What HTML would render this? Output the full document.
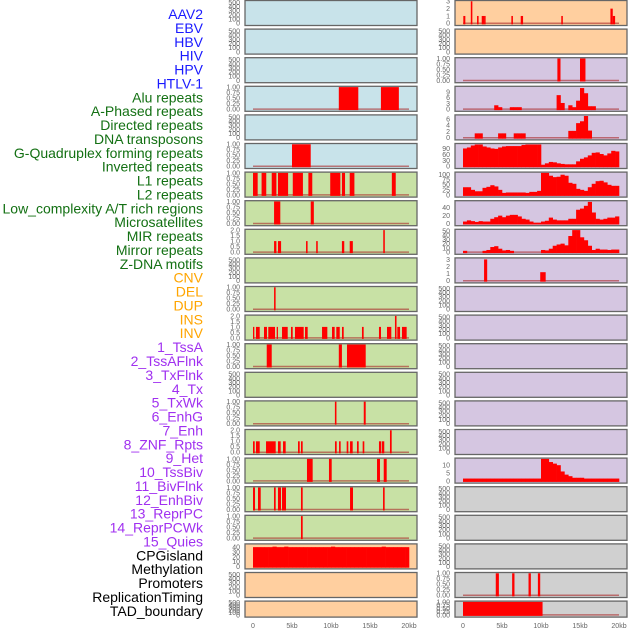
<!DOCTYPE html>
<html><head><meta charset="utf-8"><style>
html,body{margin:0;padding:0;background:#fff;width:630px;height:630px;overflow:hidden}
svg{display:block;font-family:"Liberation Sans",sans-serif}
</style></head><body>
<svg id="chart" width="630" height="630" viewBox="0 0 630 630" xmlns="http://www.w3.org/2000/svg"></svg>
<script>
// ---------- data ----------
const rowLabels = ["AAV2","EBV","HBV","HIV","HPV","HTLV-1","Alu repeats","A-Phased repeats","Directed repeats","DNA transposons","G-Quadruplex forming repeats","Inverted repeats","L1 repeats","L2 repeats","Low_complexity A/T rich regions","Microsatellites","MIR repeats","Mirror repeats","Z-DNA motifs","CNV","DEL","DUP","INS","INV","1_TssA","2_TssAFlnk","3_TxFlnk","4_Tx","5_TxWk","6_EnhG","7_Enh","8_ZNF_Rpts","9_Het","10_TssBiv","11_BivFlnk","12_EnhBiv","13_ReprPC","14_ReprPCWk","15_Quies","CPGisland","Methylation","Promoters","ReplicationTiming","TAD_boundary"];
const labelColors = ["#1a1aff","#1a1aff","#1a1aff","#1a1aff","#1a1aff","#1a1aff","#137013","#137013","#137013","#137013","#137013","#137013","#137013","#137013","#137013","#137013","#137013","#137013","#137013","#ffa500","#ffa500","#ffa500","#ffa500","#ffa500","#a030f0","#a030f0","#a030f0","#a030f0","#a030f0","#a030f0","#a030f0","#a030f0","#a030f0","#a030f0","#a030f0","#a030f0","#a030f0","#a030f0","#a030f0","#000","#000","#000","#000","#000"];
const xTickValues = [0,5,10,15,20];
const xTickLabels = ["0","5kb","10kb","15kb","20kb"];

// left column segments [startKb, endKb, value]
const L3 = [[11.0,13.5,1],[16.4,18.7,1]];
const L5 = [[5.0,7.4,1]];
const L6 = [[0,0.6,1],[1.1,1.7,1],[2.4,3.0,1],[3.2,4.5,1],[5.1,6.4,1],[7.1,7.6,1],[9.9,11.2,1],[11.4,11.8,1],[12.4,13.0,1],[17.8,18.3,1]];
const L7 = [[2.7,3.5,1],[7.4,7.8,1]];
const L8 = [[2.7,3.0,1],[3.2,3.6,1],[6.8,7.0,1],[8.1,8.3,1],[11.4,11.7,1],[12.4,12.8,1],[16.7,16.9,2]];
const L10 = [[2.7,2.9,1]];
const L11 = [[0,0.17,1],[0.38,0.86,1],[1.41,1.79,1],[1.96,2.82,1],[3.04,3.2,1],[3.72,4.45,1],[4.87,5.09,1],[5.38,6.5,1],[6.67,7.01,1],[8.85,9.53,1],[10.13,10.47,1],[10.68,11.12,1],[11.41,11.63,1],[13.97,14.19,1],[16.15,16.41,1],[17.18,17.73,1],[18.2,18.4,2],[18.5,18.85,1],[19.1,19.7,1]];
const L12 = [[1.76,2.4,1],[11.0,11.4,1],[12.05,14.45,1]];
const L14 = [[10.5,10.7,1],[14.2,14.45,1]];
const L15 = [[0,0.22,1],[0.38,0.86,1],[1.67,2.91,1],[3.2,3.55,1],[3.85,4.19,1],[5.77,5.99,1],[6.15,6.37,1],[10.51,10.73,1],[11.03,11.24,1],[12.01,12.22,1],[12.44,12.78,1],[13.33,13.55,1],[14.06,14.27,1],[16.15,16.45,1],[16.54,16.83,1],[17.56,17.78,2]];
const L16 = [[6.92,7.65,1],[9.74,10.09,1],[15.9,16.28,1],[16.76,17.14,1]];
const L17 = [[0,0.26,1],[0.64,0.99,1],[2.69,2.91,1],[3.2,3.59,1],[3.72,4.23,1],[6.15,6.37,1],[12.44,12.82,1],[16.67,16.88,1]];
const L18 = [[6.15,6.37,1]];
const L19bins = [40,40,40,40,40,41,40,40,41,40,40,40,40,40,40,40,40,40,40,40,41,40,40,40,40,40,40,40,40,40,40,40,40,41,40,40,40,40,40,40];

// right column
const R0 = [[0.04,0.3,1],[1.0,1.2,3],[1.8,2.0,1],[2.4,2.7,1],[2.7,2.9,1],[6.2,6.4,1],[7.4,7.7,1],[12.6,12.8,1],[18.9,19.2,2],[19.2,19.5,1]];
const R2 = [[12.1,12.5,1],[15.0,15.7,1]];
const R3bins = [0,0,0,0,0,0,0,0,2,1,0,0,1,1,1,0,0,0,0,0,0,0,0,0,7.3,3.2,0,2,1,4.4,11,8.3,1.5,1.5,0,0,0,0,0,0];
const R4bins = [0,0,0,1.4,1.4,0,0,0,0,1.4,1.4,0,0,1.4,1.4,1.4,0,0,0,0,0,0,0,0,0,0,0,2.2,2.2,4.7,5.3,7,2.3,0,0,0,0,0,0,0];
const R5bins = [90,95,105,110,110,100,95,90,88,95,100,102,102,102,102,108,110,110,110,110,8,15,22,20,15,12,10,10,10,25,38,45,55,68,70,62,55,65,78,75];
const R6bins = [38,38,25,18,18,35,40,48,42,25,10,12,12,12,12,12,10,15,15,20,109,109,95,88,90,100,95,60,55,30,25,20,38,55,68,70,62,50,45,45];
const R7bins = [5,8,6,4,6,5,5,12,16,20,16,20,22,22,18,12,10,5,2,2,5,7,15,10,8,8,8,12,12,35,38,45,55,28,12,10,12,15,15,18];
const R8bins = [3,0,0,0,0,3,5,12,14,8,4,5,3,0,0,0,0,0,0,0,5,4,8,15,18,20,16,38,52,52,35,28,15,5,8,6,6,5,6,6];
const R9 = [[2.7,3.1,3],[9.9,10.6,1.2]];
const R16bins = [1.5,1.5,1.5,1.5,1.5,1.5,1.5,1.5,1.5,1.5,1.5,1.5,1.5,1.5,1.5,1.5,1.5,1.5,1.5,1.5,14,14,12,11,10,6,4,3,2,2,2,1.5,1.5,1.5,1.5,1.5,1.5,1.5,1.5,1.5];
const R20 = [[4.2,4.6,1],[6.3,6.6,1],[8.4,8.7,1],[9.6,9.9,1]];
const R21 = [[0,10.2,1]];

// ---------- drawing ----------
const NS = "http://www.w3.org/2000/svg";
const svg = document.getElementById("chart");
function mk(tag, attrs, parent){const e=document.createElementNS(NS,tag);for(const k in attrs)e.setAttribute(k,attrs[k]);(parent||svg).appendChild(e);return e;}

const COLS = {L:{x:245,w:172,x0:253,lab:240},R:{x:455,w:172,x0:463,lab:450}};
const kbScale = 7.8;
const BG = {blue:"#c8e3ea",green:"#c8e1a5",peach:"#ffcf9f",lav:"#d5c6e1",grey:"#d0d0d0"};
const T500 = {max:530,ticks:[0,100,200,300,400,500],fmt:v=>String(v)};
const T1 = {max:1,ticks:[0,0.25,0.5,0.75,1],fmt:v=>v.toFixed(2)};
const T2 = {max:2,ticks:[0,0.5,1,1.5,2],fmt:v=>v.toFixed(1)};
function T(max,ticks){return {max:max,ticks:ticks,fmt:v=>String(v)};}

const panels = [
 ["L",0,"blue",T500,null,null],["L",1,"blue",T500,null,null],["L",2,"blue",T500,null,null],
 ["L",3,"blue",T1,L3,null],["L",4,"blue",T500,null,null],["L",5,"blue",T1,L5,null],
 ["L",6,"green",T1,L6,null],["L",7,"green",T1,L7,null],["L",8,"green",T2,L8,null],
 ["L",9,"green",T500,null,null],["L",10,"green",T1,L10,null],["L",11,"green",T2,L11,null],
 ["L",12,"green",T1,L12,null],["L",13,"green",T500,null,null],["L",14,"green",T1,L14,null],
 ["L",15,"green",T2,L15,null],["L",16,"green",T1,L16,null],["L",17,"green",T1,L17,null],
 ["L",18,"green",T1,L18,null],["L",19,"peach",T(45,[0,10,20,30,40]),null,L19bins],
 ["L",20,"peach",T500,null,null],["L",21,"peach",T500,null,null],
 ["R",0,"peach",T(3,[0,1,2,3]),R0,null],["R",1,"peach",T500,null,null],
 ["R",2,"lav",T1,R2,null],["R",3,"lav",T(11.5,[0,3,6,9]),null,R3bins],
 ["R",4,"lav",T(7.1,[0,2,4,6]),null,R4bins],["R",5,"lav",T(111,[0,30,60,90]),null,R5bins],
 ["R",6,"lav",T(109,[0,25,50,75,100]),null,R6bins],["R",7,"lav",T(56,[0,20,40]),null,R7bins],
 ["R",8,"lav",T(52,[0,10,20,30,40,50]),null,R8bins],["R",9,"lav",T(3.1,[0,1,2,3]),R9,null],
 ["R",10,"lav",T500,null,null],["R",11,"lav",T500,null,null],["R",12,"lav",T500,null,null],
 ["R",13,"lav",T500,null,null],["R",14,"lav",T500,null,null],["R",15,"lav",T500,null,null],
 ["R",16,"lav",T(14,[0,5,10]),null,R16bins],["R",17,"grey",T500,null,null],
 ["R",18,"grey",T500,null,null],["R",19,"grey",T500,null,null],
 ["R",20,"grey",T1,R20,null],["R",21,"grey",T1,R21,null]
];

panels.forEach(p=>{
  const [c,row,bg,tk,segs,bins]=p;
  const C=COLS[c];
  const top=row*28.6+0.5, h=(row===21?16:25);
  const g=mk("g",{});
  
  
  const r=mk("rect",{x:C.x,y:top,width:C.w,height:h,fill:BG[bg],stroke:"#666","stroke-width":1.3},g);
  
  
  const zeroY=top+h-2.2, topY=top+0.8;
  const yS=v=>zeroY-(v/tk.max)*(zeroY-topY);
  const xS=kb=>C.x0+kb*kbScale;
  tk.ticks.forEach(v=>{
    const t=mk("text",{x:C.lab,y:yS(v)+2.4,"font-size":7,fill:"#666","text-anchor":"end"},g);
    t.textContent=tk.fmt(v);
    
    
  });
  if(segs||bins){
    const bl=mk("line",{x1:xS(0),x2:xS(20),y1:zeroY,y2:zeroY,stroke:"rgba(170,40,40,0.6)","stroke-width":1.5},g);
    
    
  }
  if(segs){
    segs.forEach(s=>{
      const y=Math.max(yS(s[2]),top);
      const b=mk("rect",{x:xS(s[0]),y:y,width:Math.max(xS(s[1])-xS(s[0]),1.2),height:zeroY-y+1,fill:"#ff0000"},g);
      
      
    });
  }
  if(bins){
    bins.forEach((v,i)=>{
      if(v<=0) return;
      const y=Math.max(yS(v),top);
      const b=mk("rect",{x:xS(i*0.5),y:y,width:0.5*kbScale+0.3,height:zeroY-y+1,fill:"#ff0000"},g);
      
      
    });
  }
});

// x-axis labels
["L","R"].forEach(c=>{
  xTickValues.forEach((v,i)=>{
    const t=mk("text",{x:COLS[c].x0+v*kbScale,y:628,"font-size":7,fill:"#666","text-anchor":"middle"});
    t.textContent=xTickLabels[i];
    
    
  });
});

// row labels
rowLabels.forEach((s,i)=>{
  const t=mk("text",{x:203,y:14+i*13.88+5,"font-size":14,fill:labelColors[i],"text-anchor":"end"});
  t.textContent=s;
  
  
});
</script>
</body></html>
